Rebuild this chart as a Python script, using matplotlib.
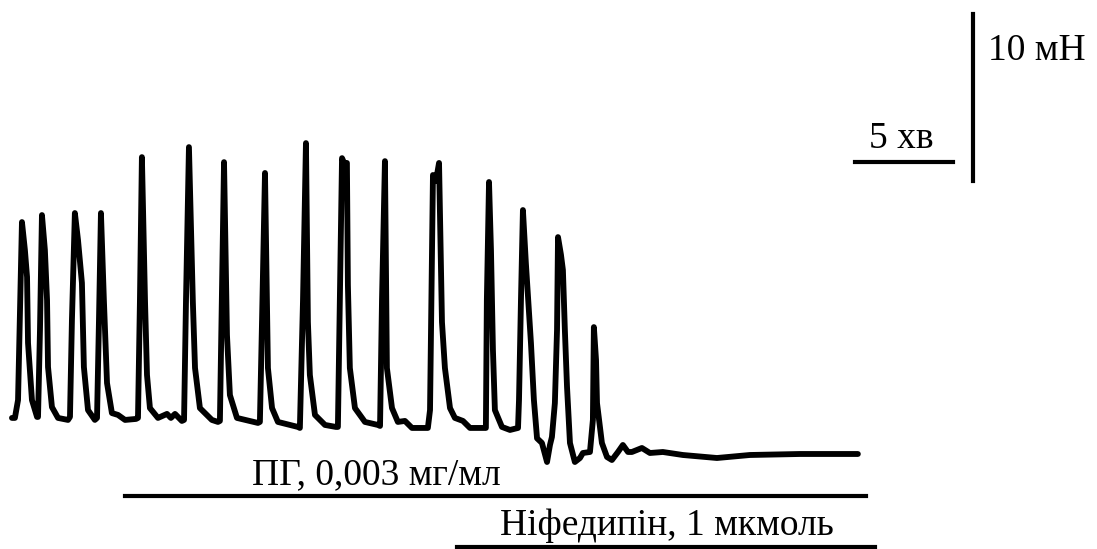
import matplotlib
import matplotlib.pyplot as plt
matplotlib.use('Agg')

# час, хв
time_min = [
    0.00,
    0.15, 0.31, 0.51, 0.66, 0.77, 0.82, 1.02, 1.28,
    1.33, 1.43, 1.53, 1.68, 1.79, 1.84, 2.04, 2.35, 2.86,
    2.96, 3.06, 3.21, 3.37, 3.57, 3.67, 3.88, 4.23,
    4.34, 4.44, 4.54, 4.69, 4.85, 5.10, 5.41, 5.77, 6.33,
    6.43, 6.53, 6.63, 6.79, 6.89, 7.04, 7.45, 7.91, 8.11, 8.32, 8.67,
    8.78, 8.88, 9.03, 9.23, 9.34, 9.59, 10.20, 10.51,
    10.61, 10.71, 10.82, 10.97, 11.12, 11.48, 12.55,
    12.65, 12.76, 12.91, 13.06, 13.27, 13.57, 14.59,
    14.69, 14.85, 15.00, 15.10, 15.20, 15.46, 15.97, 16.53,
    16.63, 16.73, 16.84, 16.99, 17.09, 17.14, 17.24, 17.50, 18.01, 18.67,
    18.78, 18.88, 19.03, 19.13, 19.39, 19.69, 20.05, 20.41, 21.22,
    21.33, 21.48, 21.63, 21.79, 21.94, 22.09, 22.35, 22.60, 23.01, 23.37,
    24.08,
    24.18, 24.23, 24.34, 24.44, 24.54, 24.64, 25.00, 25.41, 25.82,
    25.87, 25.97, 26.07, 26.22, 26.33, 26.48, 26.63, 26.79, 27.04, 27.30,
    27.45, 27.55, 27.70,
    27.81, 27.86, 28.01, 28.11, 28.21, 28.32, 28.47, 28.72, 28.98, 29.13,
    29.49, 29.64,
    29.69, 29.80, 29.85, 30.10, 30.36, 30.61, 30.92, 31.17, 31.43, 31.63,
    32.14, 32.55, 33.21, 34.23, 35.97, 37.65, 40.20, 43.16,
]
# сила скорочення, мН
force_mn = [
    2.22,
    2.22, 3.29, 13.95, 12.28, 10.66, 6.71, 3.29, 2.28,
    2.28, 7.49, 14.37, 12.28, 9.28, 5.27, 2.87, 2.22, 2.10,
    2.28, 8.08, 14.49, 12.87, 10.30, 5.27, 2.69, 2.10,
    2.22, 8.08, 14.49, 9.28, 4.31, 2.51, 2.40, 2.10, 2.16,
    2.22, 9.28, 17.84, 9.16, 4.79, 2.81, 2.22, 2.46, 2.22, 2.46, 2.04,
    2.10, 9.28, 18.44, 9.16, 5.21, 2.81, 2.10, 1.98,
    2.04, 9.28, 17.54, 7.19, 3.59, 2.22, 1.92,
    1.98, 8.08, 16.89, 5.21, 2.81, 1.98, 1.68,
    1.62, 9.28, 18.68, 7.96, 4.79, 2.40, 1.80, 1.68,
    1.68, 9.28, 17.78, 17.37, 17.49, 10.18, 5.21, 2.81, 1.98, 1.80,
    1.74, 9.28, 17.60, 5.21, 2.81, 1.98, 2.04, 1.62, 1.62,
    2.69, 16.77, 16.40, 17.49, 7.96, 5.21, 2.81, 2.22, 2.04, 1.62,
    1.62,
    1.62, 9.28, 16.35, 12.28, 6.29, 2.69, 1.68, 1.50, 1.62,
    3.29, 9.28, 14.67, 11.50, 9.46, 6.70, 3.30, 1.00, 0.72, -0.42,
    0.60, 1.08, 3.11,
    7.49, 13.05, 12.00, 11.08, 7.49, 4.07, 0.72, -0.42, -0.18, 0.12,
    0.18, 2.10,
    7.66, 5.69, 3.11, 0.72, -0.12, -0.30, 0.18, 0.60, 0.18, 0.18,
    0.42, 0.12, 0.18, 0.00, -0.18, 0.00, 0.06, 0.06,
]

# періоди дії речовин, хв
pg_period = [5.77, 43.57]
nif_period = [22.70, 44.03]
pg_label = 'ПГ, 0,003 мг/мл'
nif_label = 'Ніфедипін, 1 мкмоль'

# масштабні відрізки
time_bar = [43.0, 48.0]
force_bar = [16.4, 26.4]

plt.rcParams['font.family'] = ['Liberation Serif', 'DejaVu Serif']

fig = plt.figure(figsize=(10.97, 5.49), dpi=100)
ax = fig.add_axes([0, 0, 1, 1])
ax.set_xlim(-0.61, 55.36)
ax.set_ylim(-5.63, 27.25)
ax.axis('off')

ax.plot(time_min, force_mn, color='black', linewidth=4.2,
        solid_joinstyle='round', solid_capstyle='round')

# позначки речовин
ax.plot(pg_period, [-2.46, -2.46], color='black', linewidth=3.0)
ax.text(18.57, -1.74, pg_label, ha='center', va='baseline', fontsize=27)
ax.plot(nif_period, [-5.51, -5.51], color='black', linewidth=3.0)
ax.text(33.42, -4.79, nif_label, ha='center', va='baseline', fontsize=27)

# масштаб
ax.plot(time_bar, [17.54, 17.54], color='black', linewidth=3.0)
ax.text(45.36, 18.38, '5 хв', ha='center', va='baseline', fontsize=27)
ax.plot([49.03, 49.03], force_bar, color='black', linewidth=3.0)
ax.text(49.8, 23.65, '10 мН', ha='left', va='baseline', fontsize=27)

fig.savefig('out.png', dpi=100)
